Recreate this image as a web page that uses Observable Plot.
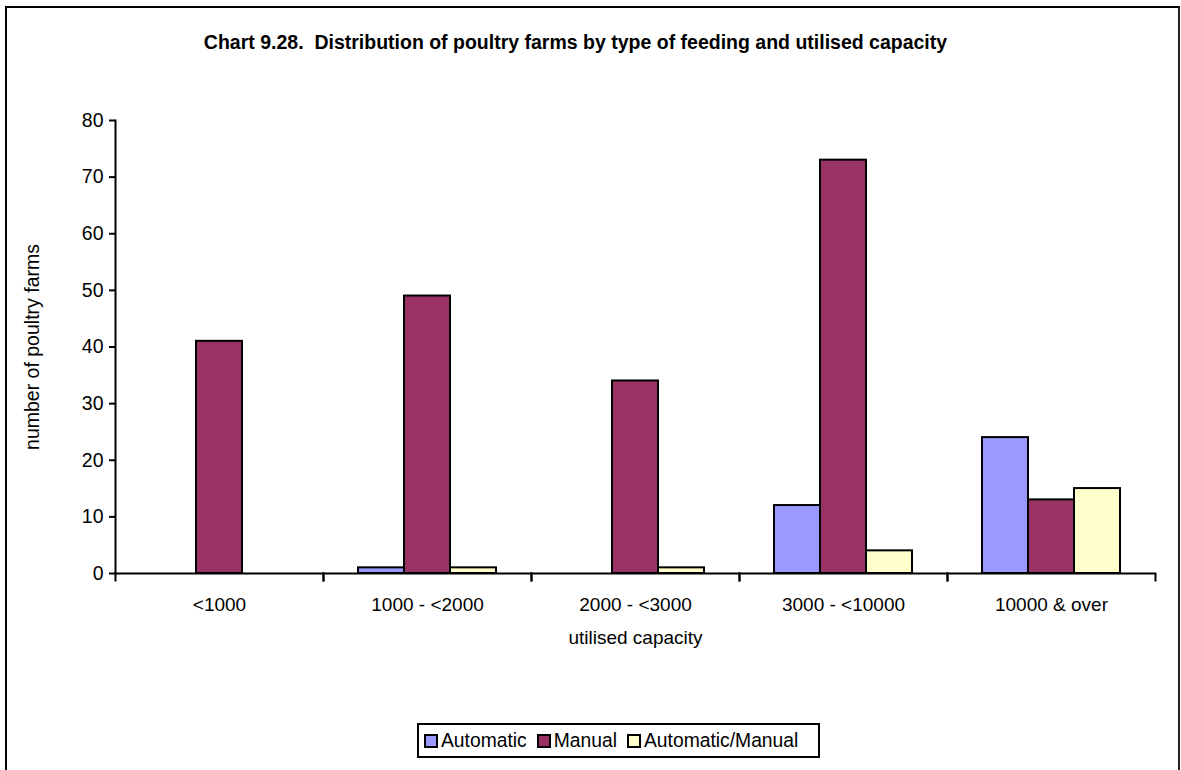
<!DOCTYPE html>
<html><head><meta charset="utf-8">
<script src="https://cdn.jsdelivr.net/npm/d3@7"></script>
<script src="https://cdn.jsdelivr.net/npm/@observablehq/plot@0.6"></script>
<style>
body{margin:0;background:#fff;font-family:"Liberation Sans",Arial,sans-serif;color:#000;}
#wrap{position:relative;width:1181px;height:770px;overflow:hidden;}
#border{position:absolute;left:5px;top:6px;width:1171px;height:800px;border-left:2px solid #000;border-top:2px solid #000;border-right:2px solid #222;}
#title{position:absolute;left:0;width:1151px;top:31px;text-align:center;font-weight:bold;font-size:19.5px;}
#chart{position:absolute;left:0;top:0;}
#legend{position:absolute;left:417px;top:723px;width:403px;height:35px;box-sizing:border-box;border:2px solid #000;display:flex;align-items:center;padding-left:5px;font-size:19.3px;background:#fff;}
#legend .item{display:flex;align-items:center;margin-right:10px;}
#legend .sw{width:14px;height:14px;box-sizing:border-box;border:2px solid #000;margin-right:3px;}
</style>
</head><body>
<div id="wrap">
<div id="border"></div>
<div id="chart"></div>
<div id="title">Chart 9.28.&nbsp; Distribution of poultry farms by type of feeding and utilised capacity</div>
<div id="legend"></div>
</div>
<script>
const categories = ["<1000", "1000 - <2000", "2000 - <3000", "3000 - <10000", "10000 & over"];
const types = ["Automatic", "Manual", "Automatic/Manual"];
const automatic = [0, 1, 0, 12, 24];
const manual = [41, 49, 34, 73, 13];
const automaticManual = [0, 1, 1, 4, 15];
const colors = ["#9999FF", "#993366", "#FFFFCC"];
const yTicks = [0, 10, 20, 30, 40, 50, 60, 70, 80];

const series = [automatic, manual, automaticManual];
const rows = [];
categories.forEach((c, i) => types.forEach((t, j) => rows.push({category: c, type: t, value: series[j][i]})));

const plotH = 453;
const chart = Plot.plot({
  width: 1181, height: 660,
  marginLeft: 114, marginRight: 26, marginTop: 120, marginBottom: 87,
  style: {fontFamily: "'Liberation Sans', Arial, sans-serif", fontSize: "19px", color: "#000", background: "transparent", overflow: "visible"},
  fx: {domain: categories, padding: 0},
  x: {domain: types, paddingInner: 0, paddingOuter: 0.74, axis: null},
  y: {domain: [0, 80]},
  color: {domain: types, range: colors},
  marks: [
    Plot.barY(rows.filter(d => d.value > 0), {fx: "category", x: "type", y: "value", fill: "type", stroke: "#000", strokeWidth: 2}),
    Plot.ruleY([0], {stroke: "#000", strokeWidth: 2}),
    Plot.frame({anchor: "left", insetTop: plotH, insetBottom: -7, stroke: "#000", strokeWidth: 2}),
    Plot.frame({anchor: "right", insetTop: plotH, insetBottom: -7, stroke: "#000", strokeWidth: 2}),
    Plot.frame({anchor: "left", stroke: "#000", strokeWidth: 2, fx: () => categories[0]}),
    Plot.axisY({ticks: yTicks, tickSize: 6, tickPadding: 6, strokeWidth: 2, label: "number of poultry farms", labelAnchor: "center", labelOffset: 90, labelArrow: "none", fontSize: "19.5px"}),
    Plot.axisFx({anchor: "bottom", tickSize: 0, tickPadding: 24, label: "utilised capacity", labelAnchor: "center", labelOffset: 70, labelArrow: "none"})
  ]
});
document.getElementById("chart").appendChild(chart);

const legend = document.getElementById("legend");
types.forEach((t, i) => {
  const it = document.createElement("div"); it.className = "item";
  const sw = document.createElement("div"); sw.className = "sw"; sw.style.background = colors[i];
  const tx = document.createElement("span"); tx.textContent = t;
  it.appendChild(sw); it.appendChild(tx); legend.appendChild(it);
});
</script>
</body></html>
